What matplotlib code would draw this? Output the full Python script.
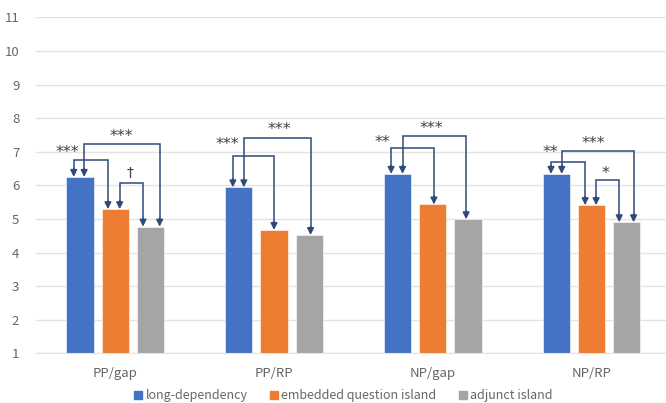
import numpy as np
import matplotlib.pyplot as plt
from matplotlib.lines import Line2D

plt.rcParams['font.family'] = ['Noto Sans CJK JP', 'DejaVu Sans']

conditions = ['PP/gap', 'PP/RP', 'NP/gap', 'NP/RP']
series = ['long-dependency', 'embedded question island', 'adjunct island']
long_dep = [6.25, 5.94, 6.34, 6.34]
embedded_q = [5.29, 4.67, 5.43, 5.41]
adjunct = [4.77, 4.52, 4.99, 4.90]

# significance comparisons: (condition, bar from, bar to, label)
comparisons = [
    (0, 0, 1, '***'), (0, 0, 2, '***'), (0, 1, 2, '†'),
    (1, 0, 1, '***'), (1, 0, 2, '***'),
    (2, 0, 1, '**'), (2, 0, 2, '***'),
    (3, 0, 1, '**'), (3, 0, 2, '***'), (3, 1, 2, '*'),
]

colors = ['#4472C4', '#ED7D31', '#A5A5A5']
bracket_color = '#2F4A76'

# bracket layout: arrow offsets from bar centre (px), bracket top, label x offset (px) / y
bracket_layout = [
    (-6.4, -7.4, 6.76, -13, 6.97), (4.0, 9.1, 7.22, 41, 7.45), (4.3, -7.5, 6.07, 15, 6.37),
    (-6.0, 0.0, 6.86, -11, 7.22), (5.0, 1.3, 7.40, 41, 7.65),
    (-6.4, 1.2, 7.12, -15, 7.27), (5.0, -1.8, 7.48, 34, 7.70),
    (-5.2, -6.3, 6.68, -6, 6.99), (5.5, 7.0, 7.02, 37, 7.23), (4.7, -7.4, 6.15, 14, 6.36),
]

W, H = 666, 403
fig = plt.figure(figsize=(W / 100, H / 100), dpi=100)
ax = fig.add_axes([36 / W, (H - 353.3) / H, 630 / W, 336 / H])

px = 1 / 158.7           # one pixel in x data units
bar_w = 27.3 * px
step = 35.2 * px
x = np.arange(len(conditions))
values = [long_dep, embedded_q, adjunct]

for k, (vals, c) in enumerate(zip(values, colors)):
    ax.bar(x + (k - 1) * step, np.array(vals) - 1, bottom=1, width=bar_w,
           color=c, edgecolor='white', linewidth=0.4, zorder=2)

for (g, i, j, label), (oi, oj, top, lx, ly) in zip(comparisons, bracket_layout):
    xi = g + (i - 1) * step + oi * px
    xj = g + (j - 1) * step + oj * px
    yi = values[i][g]
    yj = values[j][g]
    ax.plot([xi, xi, xj, xj], [yi + 0.15, top, top, yj + 0.15],
            color=bracket_color, lw=1.1, zorder=3, solid_joinstyle='miter')
    for xa, ya in [(xi, yi), (xj, yj)]:
        ax.annotate('', xy=(xa, ya), xytext=(xa, ya + 0.25),
                    arrowprops=dict(arrowstyle='-|>,head_length=0.4,head_width=0.2',
                                    color=bracket_color, lw=1.1, shrinkA=0, shrinkB=0),
                    zorder=4)
    xl = g + (i - 1) * step + lx * px
    ax.text(xl, ly, label, ha='center', va='center', fontsize=11.5 if '*' in label else 10,
            color='#404040', family='DejaVu Sans', zorder=5)

ax.set_xlim(-0.5, 3.47)
ax.set_ylim(1, 11)
ax.set_yticks(range(1, 12))
ax.set_xticks(x)
ax.set_xticklabels(conditions)
ax.yaxis.grid(True, color='#E3E3E3', lw=1)
ax.set_axisbelow(True)
for s in ['top', 'right', 'left']:
    ax.spines[s].set_visible(False)
ax.spines['bottom'].set_color('#E3E3E3')
ax.tick_params(length=0, colors='#666666', labelsize=9.5)
ax.tick_params(axis='y', pad=12)
ax.tick_params(axis='x', pad=10)

handles = [Line2D([], [], marker='s', ls='', color=c, markersize=5.5) for c in colors]
fig.legend(handles, series, loc='center', bbox_to_anchor=(0.516, 0.018), ncol=3,
           frameon=False, handlelength=0.6, handletextpad=0.3, columnspacing=1.8,
           fontsize=9, labelcolor='#666666')

fig.savefig('out.png', dpi=100)
